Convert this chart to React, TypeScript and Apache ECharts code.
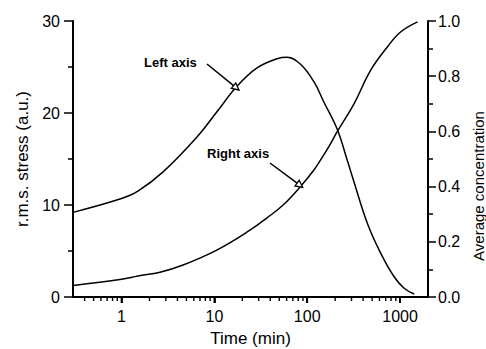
import React, { useEffect, useRef } from "react";
import * as echarts from "echarts";

// Left-axis curve: r.m.s. stress vs time (min)
const stressTime = [0.3, 1, 1.5, 2.8, 6.5, 10.6, 17.5, 28.8, 47.4, 60.8, 84.7, 118, 151, 211, 271, 319, 445, 620, 863, 1107, 1420];
const stressValues = [9.2, 10.7, 11.5, 13.6, 17.4, 20.1, 22.9, 24.9, 25.9, 26.05, 25.3, 23.4, 21.2, 18.2, 14.8, 12.5, 8.0, 4.75, 2.2, 0.95, 0.33];

// Right-axis curve: average concentration vs time (min)
const concTime = [0.3, 1, 1.5, 2.6, 4.6, 10.6, 24.4, 37, 55.8, 84.7, 118, 139, 171, 211, 319, 483, 733, 1020, 1545];
const concValues = [0.042, 0.064, 0.076, 0.09, 0.116, 0.17, 0.243, 0.287, 0.335, 0.4, 0.46, 0.496, 0.545, 0.6, 0.7, 0.822, 0.907, 0.961, 0.997];

// Time-axis range, labelled ticks and minor tick positions (minutes)
const xRange = [0.3, 2000];
const xMajorLabels = [1, 10, 100, 1000];
const xMinorTicks = [0.4, 0.5, 0.6, 0.7, 0.8, 0.9, 2, 3, 4, 5, 6, 7, 8, 9, 20, 30, 40, 50, 60, 70, 80, 90, 200, 300, 400, 500, 600, 700, 800, 900];

const FONT = "Liberation Sans, Arial, sans-serif";
const lg = (v: number) => Math.log10(v);

function arrow(sx: number, sy: number, tx: number, ty: number) {
  const dx = tx - sx, dy = ty - sy;
  const len = Math.sqrt(dx * dx + dy * dy);
  const ux = dx / len, uy = dy / len;
  const hl = 7, hw = 3.5;
  const bx = tx - hl * ux, by = ty - hl * uy;
  const nx = -uy, ny = ux;
  return [
    { type: "line", shape: { x1: sx, y1: sy, x2: bx, y2: by }, style: { stroke: "#000", lineWidth: 1.5 }, z: 100 },
    {
      type: "polygon",
      shape: { points: [[tx, ty], [bx + hw * nx, by + hw * ny], [bx - hw * nx, by - hw * ny]] },
      style: { stroke: "#000", fill: "#fff", lineWidth: 1.3 },
      z: 101,
    },
  ];
}

export default function App() {
  const ref = useRef<HTMLDivElement>(null);
  useEffect(() => {
    if (!ref.current) return;
    const chart = echarts.init(ref.current, undefined, { renderer: "svg" });
    const axisLine = { show: true, onZero: false, lineStyle: { color: "#000", width: 2 } };
    const xMin = lg(xRange[0]);
    const xMax = lg(xRange[1]);
    const annotations = [
      {
        type: "text",
        x: 144,
        y: 62,
        style: { text: "Left axis", fontFamily: FONT, fontSize: 13, fontWeight: "bold", fill: "#000", verticalAlign: "middle" },
      },
      {
        type: "text",
        x: 207,
        y: 153,
        style: { text: "Right axis", fontFamily: FONT, fontSize: 13, fontWeight: "bold", fill: "#000", verticalAlign: "middle" },
      },
      ...arrow(207, 64, 239, 90),
      ...arrow(270, 163, 302.7, 187.3),
    ];
    chart.setOption({
      animation: false,
      backgroundColor: "#fff",
      grid: { left: 73, right: 58, top: 21, bottom: 52, outerBoundsMode: "none", containLabel: false },
      xAxis: {
        type: "value",
        min: xMin,
        max: xMax,
        name: "Time (min)",
        nameLocation: "middle",
        nameGap: 33,
        nameTextStyle: { fontFamily: FONT, fontSize: 17, color: "#000" },
        axisLine,
        axisTick: { show: true, inside: false, length: 6, customValues: xMajorLabels.map(lg), lineStyle: { color: "#000", width: 1.8 } },
        splitLine: { show: false },
        axisLabel: {
          fontFamily: FONT,
          fontSize: 16,
          color: "#000",
          margin: 11,
          customValues: xMajorLabels.map(lg),
          formatter: (v: number) => String(Math.round(Math.pow(10, v))),
        },
      },
      yAxis: [
        {
          type: "value",
          min: 0,
          max: 30,
          interval: 10,
          name: "r.m.s. stress (a.u.)",
          nameLocation: "middle",
          nameGap: 38,
          nameTextStyle: { fontFamily: FONT, fontSize: 17, color: "#000" },
          axisLine,
          axisTick: { show: true, length: 9, lineStyle: { color: "#000", width: 1.5 } },
          minorTick: { show: true, splitNumber: 2, length: 5, lineStyle: { color: "#000", width: 1.5 } },
          splitLine: { show: false },
          axisLabel: { fontFamily: FONT, fontSize: 16, color: "#000", margin: 13 },
        },
        {
          type: "value",
          position: "right",
          min: 0,
          max: 1,
          interval: 0.2,
          name: "Average concentration",
          nameLocation: "middle",
          nameRotate: 90,
          nameGap: 38,
          nameTextStyle: { fontFamily: FONT, fontSize: 15, color: "#000", padding: [0, 54, 0, 0] },
          axisLine,
          axisTick: { show: true, length: 8, lineStyle: { color: "#000", width: 1.5 } },
          minorTick: { show: true, splitNumber: 2, length: 5, lineStyle: { color: "#000", width: 1.5 } },
          splitLine: { show: false },
          axisLabel: {
            fontFamily: FONT,
            fontSize: 16,
            color: "#000",
            margin: 10,
            formatter: (v: number) => v.toFixed(1),
          },
        },
      ],
      series: [
        {
          type: "line",
          name: "stress",
          yAxisIndex: 0,
          data: stressTime.map((t, i) => [lg(t), stressValues[i]]),
          smooth: 0.4,
          showSymbol: false,
          lineStyle: { color: "#000", width: 1.5 },
        },
        {
          type: "line",
          name: "concentration",
          yAxisIndex: 1,
          data: concTime.map((t, i) => [lg(t), concValues[i]]),
          smooth: 0.4,
          showSymbol: false,
          lineStyle: { color: "#000", width: 1.5 },
        },
      ],
      graphic: annotations,
    });

    // Time-axis tick marks placed through the chart's own x scale
    const tickMark = (t: number, len: number, w: number) => {
      const p = chart.convertToPixel({ xAxisIndex: 0, yAxisIndex: 0 }, [lg(t), 0]) as number[];
      return {
        type: "line",
        shape: { x1: p[0], y1: p[1], x2: p[0], y2: p[1] + len },
        style: { stroke: "#000", lineWidth: w },
        z: 90,
        silent: true,
      };
    };
    chart.setOption({
      graphic: [
        ...annotations,
        ...xMajorLabels.map((t) => tickMark(t, 6, 1.8)),
        ...xMinorTicks.map((t) => tickMark(t, 4, 1.4)),
      ],
    });
    return () => chart.dispose();
  }, []);
  return <div ref={ref} style={{ position: "fixed", left: 0, top: 0, width: 486, height: 349 }} />;
}
